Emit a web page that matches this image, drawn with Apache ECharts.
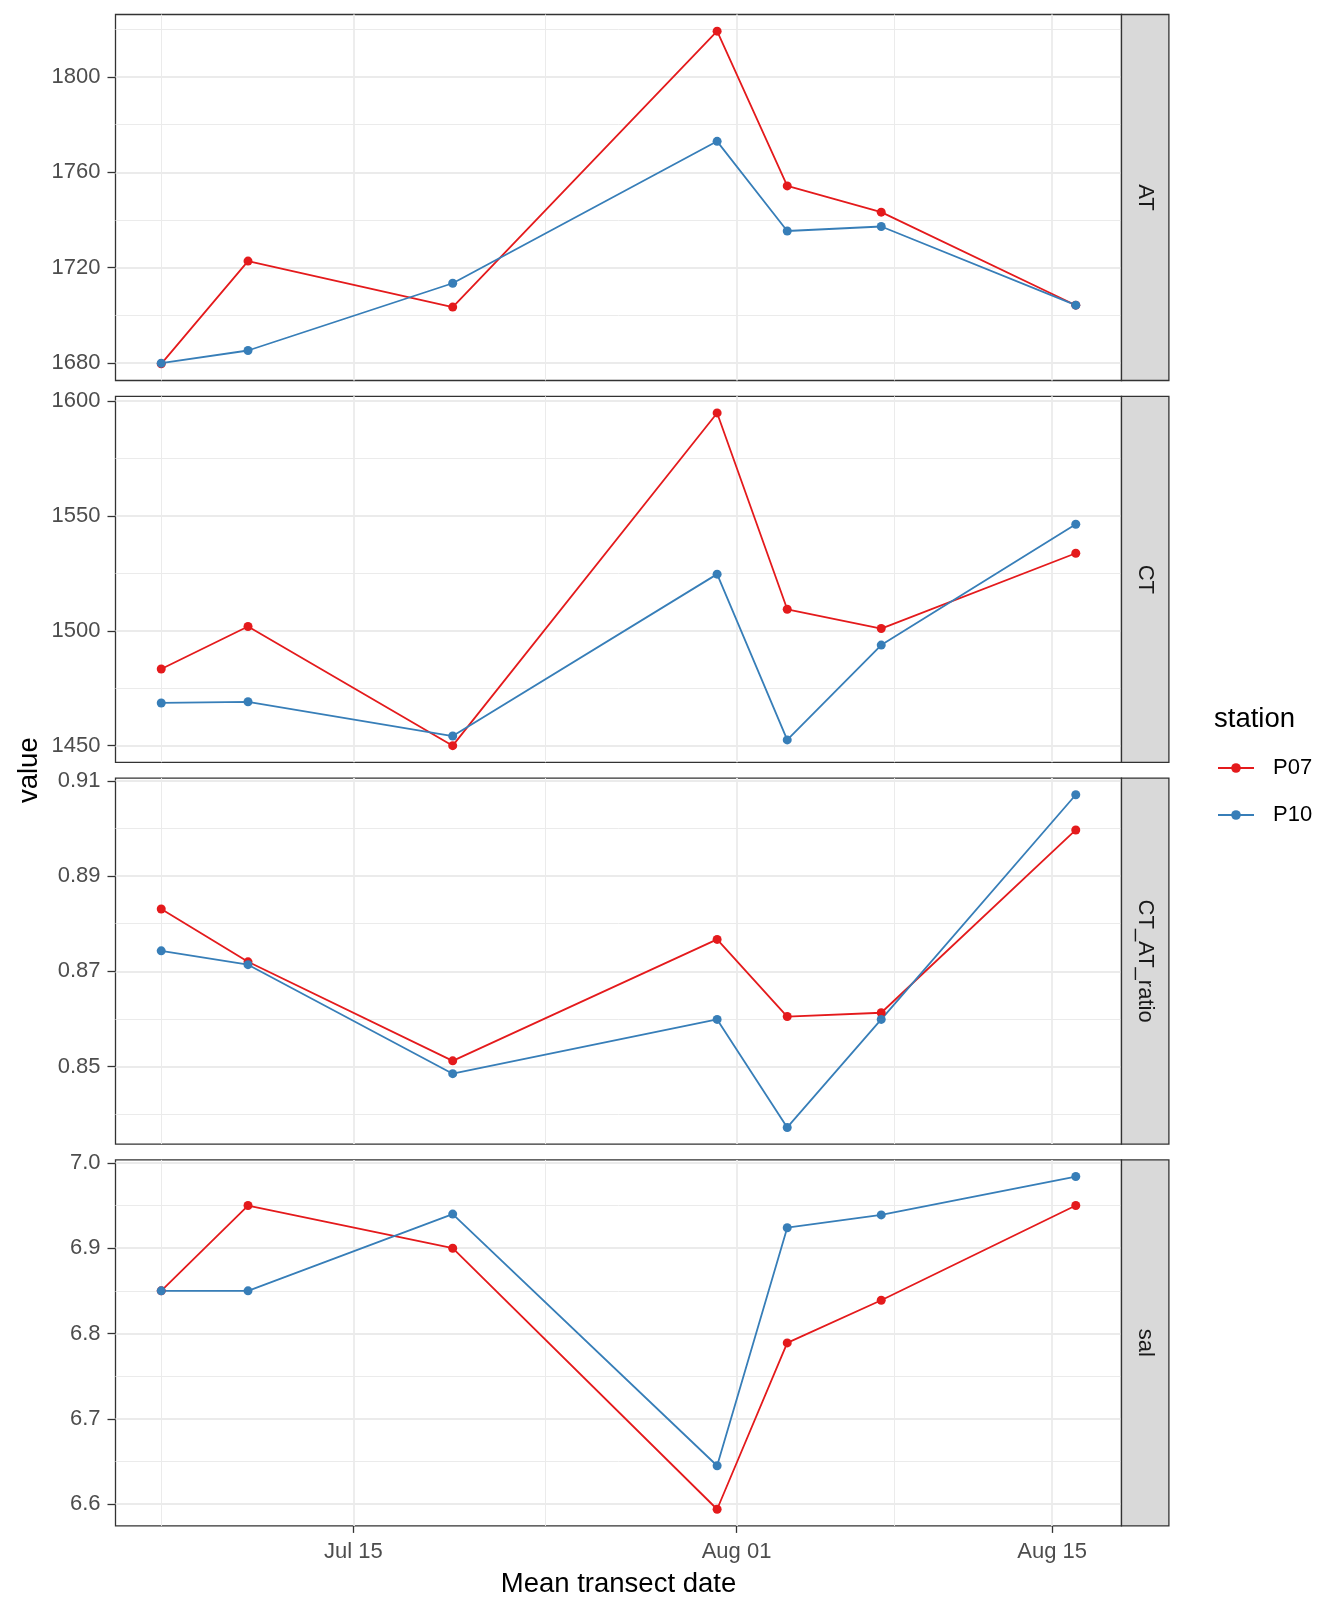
<!DOCTYPE html>
<html>
<head>
<meta charset="utf-8">
<script src="https://cdn.jsdelivr.net/npm/echarts@6/dist/echarts.min.js"></script>
<style>
html, body { margin: 0; padding: 0; background: #ffffff; }
#chart { width: 1344px; height: 1612px; }
</style>
</head>
<body>
<div id="chart"></div>
<script>
// ---- Data ----
// Mean transect dates, expressed as days after 1 July
const dates = [5.48, 9.33, 18.41, 30.14, 33.25, 37.42, 46.05];
const variables = ['AT', 'CT', 'CT_AT_ratio', 'sal'];
const stations = ['P07', 'P10'];

const AT_P07 = [1679.7, 1722.8, 1703.5, 1819.2, 1754.3, 1743.3, 1704.3];
const AT_P10 = [1680.0, 1685.3, 1713.5, 1773.0, 1735.4, 1737.3, 1704.3];
const CT_P07 = [1483.4, 1501.9, 1450.0, 1594.9, 1509.4, 1501.0, 1533.8];
const CT_P10 = [1468.6, 1469.1, 1454.2, 1524.7, 1452.5, 1493.8, 1546.4];
const RATIO_P07 = [0.8831, 0.8720, 0.8512, 0.8767, 0.8605, 0.8613, 0.8997];
const RATIO_P10 = [0.8743, 0.8714, 0.8485, 0.8599, 0.8372, 0.8599, 0.9071];
const SAL_P07 = [6.850, 6.950, 6.900, 6.594, 6.789, 6.839, 6.950];
const SAL_P10 = [6.850, 6.850, 6.940, 6.645, 6.924, 6.939, 6.984];

// Tick values and labels
const xTickValues = [14, 31, 45];            // Jul 15, Aug 01, Aug 15
const xTickLabels = ['Jul 15', 'Aug 01', 'Aug 15'];
const xMinorValues = [5.5, 22.5, 38];
const yTicksAT = [1680, 1720, 1760, 1800];
const yMinorAT = [1700, 1740, 1780, 1820];
const yTicksCT = [1450, 1500, 1550, 1600];
const yMinorCT = [1475, 1525, 1575];
const yTicksRatio = [0.85, 0.87, 0.89, 0.91];
const yMinorRatio = [0.84, 0.86, 0.88, 0.90];
const yTicksSal = [6.6, 6.7, 6.8, 6.9, 7.0];
const yMinorSal = [6.65, 6.75, 6.85, 6.95];

// ---- Assemble ----
const seriesValues = {
  AT: { P07: AT_P07, P10: AT_P10 },
  CT: { P07: CT_P07, P10: CT_P10 },
  CT_AT_ratio: { P07: RATIO_P07, P10: RATIO_P10 },
  sal: { P07: SAL_P07, P10: SAL_P10 }
};
const yTicks = { AT: yTicksAT, CT: yTicksCT, CT_AT_ratio: yTicksRatio, sal: yTicksSal };
const yMinor = { AT: yMinorAT, CT: yMinorCT, CT_AT_ratio: yMinorRatio, sal: yMinorSal };
const yDecimals = { AT: 0, CT: 0, CT_AT_ratio: 2, sal: 1 };
const colors = { P07: '#E41A1C', P10: '#377EB8' };

const FONT = 'Liberation Sans, Arial, Helvetica, sans-serif';
const GRID_LEFT = 115.5, GRID_WIDTH = 1006, GRID_TOP0 = 14.5, GRID_STEP = 381.8, GRID_H = 366;
const STRIP_W = 47.4;
const GRID_COLOR = '#EBEBEB';
const BORDER = '#333333';

function expand(arr) {
  const mn = Math.min.apply(null, arr), mx = Math.max.apply(null, arr);
  const pad = (mx - mn) * 0.05;
  return [mn - pad, mx + pad];
}
const xRange = expand(dates);

const grids = [], xAxes = [], yAxes = [], series = [], graphics = [];

variables.forEach(function (v, i) {
  const top = GRID_TOP0 + i * GRID_STEP;
  const isBottom = i === variables.length - 1;
  grids.push({
    left: GRID_LEFT, top: top, width: GRID_WIDTH, height: GRID_H,
    show: true, borderColor: BORDER, borderWidth: 1.3, backgroundColor: 'transparent'
  });
  const yRange = expand(seriesValues[v].P07.concat(seriesValues[v].P10));

  // minor x grid
  xAxes.push({
    type: 'value', gridIndex: i, position: 'bottom', offset: 0,
    min: xRange[0], max: xRange[1],
    axisLine: { show: false },
    axisTick: { show: false, customValues: xMinorValues },
    axisLabel: { show: false },
    splitLine: { show: true, lineStyle: { color: GRID_COLOR, width: 1 } }
  });
  // major x grid / axis
  xAxes.push({
    type: 'value', gridIndex: i, position: 'bottom', offset: 0,
    min: xRange[0], max: xRange[1],
    axisLine: { show: false },
    axisTick: { show: isBottom, customValues: xTickValues, length: 7, lineStyle: { color: BORDER, width: 1.3 } },
    axisLabel: {
      show: isBottom, customValues: xTickValues, margin: 15,
      color: '#4D4D4D', fontSize: 22, fontFamily: FONT,
      formatter: function (val) {
        const k = xTickValues.indexOf(val);
        return k >= 0 ? xTickLabels[k] : '';
      }
    },
    splitLine: { show: true, lineStyle: { color: GRID_COLOR, width: 1.8 } },
    name: isBottom ? 'Mean transect date' : '',
    nameLocation: 'middle', nameGap: 45,
    nameTextStyle: { color: '#000000', fontSize: 27.5, fontFamily: FONT }
  });
  // minor y grid
  yAxes.push({
    type: 'value', gridIndex: i, position: 'left', offset: 0,
    min: yRange[0], max: yRange[1],
    axisLine: { show: false },
    axisTick: { show: false, customValues: yMinor[v] },
    axisLabel: { show: false },
    splitLine: { show: true, lineStyle: { color: GRID_COLOR, width: 1 } }
  });
  // major y grid / axis
  yAxes.push({
    type: 'value', gridIndex: i, position: 'left', offset: 0,
    min: yRange[0], max: yRange[1],
    axisLine: { show: false },
    axisTick: { show: true, customValues: yTicks[v], length: 8, lineStyle: { color: BORDER, width: 1.3 } },
    axisLabel: {
      show: true, customValues: yTicks[v], margin: 15,
      color: '#4D4D4D', fontSize: 22, fontFamily: FONT,
      formatter: function (val) { return Number(val).toFixed(yDecimals[v]); }
    },
    splitLine: { show: true, lineStyle: { color: GRID_COLOR, width: 1.8 } }
  });

  stations.forEach(function (s) {
    const vals = seriesValues[v][s];
    series.push({
      type: 'line', name: s,
      xAxisIndex: 2 * i + 1, yAxisIndex: 2 * i + 1,
      data: dates.map(function (d, k) { return [d, vals[k]]; }),
      symbol: 'circle', symbolSize: 9, showSymbol: true,
      lineStyle: { color: colors[s], width: 1.8 },
      itemStyle: { color: colors[s] },
      clip: false, silent: true
    });
  });

  // facet strip
  graphics.push({
    type: 'rect', silent: true, z: 10,
    shape: { x: GRID_LEFT + GRID_WIDTH, y: top, width: STRIP_W, height: GRID_H },
    style: { fill: '#D9D9D9', stroke: BORDER, lineWidth: 1.3 }
  });
  graphics.push({
    type: 'text', silent: true, z: 11,
    x: GRID_LEFT + GRID_WIDTH + STRIP_W / 2, y: top + GRID_H / 2,
    rotation: -Math.PI / 2,
    style: { text: v, fill: '#1A1A1A', font: '22px ' + FONT, textAlign: 'center', textVerticalAlign: 'middle' }
  });
});

// y axis title
graphics.push({
  type: 'text', silent: true, z: 11,
  x: 29, y: (GRID_TOP0 + GRID_TOP0 + 3 * GRID_STEP + GRID_H) / 2,
  rotation: Math.PI / 2,
  style: { text: 'value', fill: '#000000', font: '27.5px ' + FONT, textAlign: 'center', textVerticalAlign: 'middle' }
});
// legend title
graphics.push({
  type: 'text', silent: true, z: 11,
  x: 1214, y: 719,
  style: { text: 'station', fill: '#000000', font: '27.5px ' + FONT, textAlign: 'left', textVerticalAlign: 'middle' }
});

const chart = echarts.init(document.getElementById('chart'), null, { renderer: 'canvas' });
chart.setOption({
  animation: false,
  backgroundColor: '#ffffff',
  grid: grids,
  xAxis: xAxes,
  yAxis: yAxes,
  series: series,
  legend: {
    data: stations, orient: 'vertical', left: 1212, top: 752,
    itemWidth: 36, itemHeight: 12, itemGap: 25,
    textStyle: { fontSize: 22, color: '#000000', fontFamily: FONT, padding: [0, 0, 0, 14] },
    selectedMode: false
  },
  graphic: graphics
});
</script>
</body>
</html>
